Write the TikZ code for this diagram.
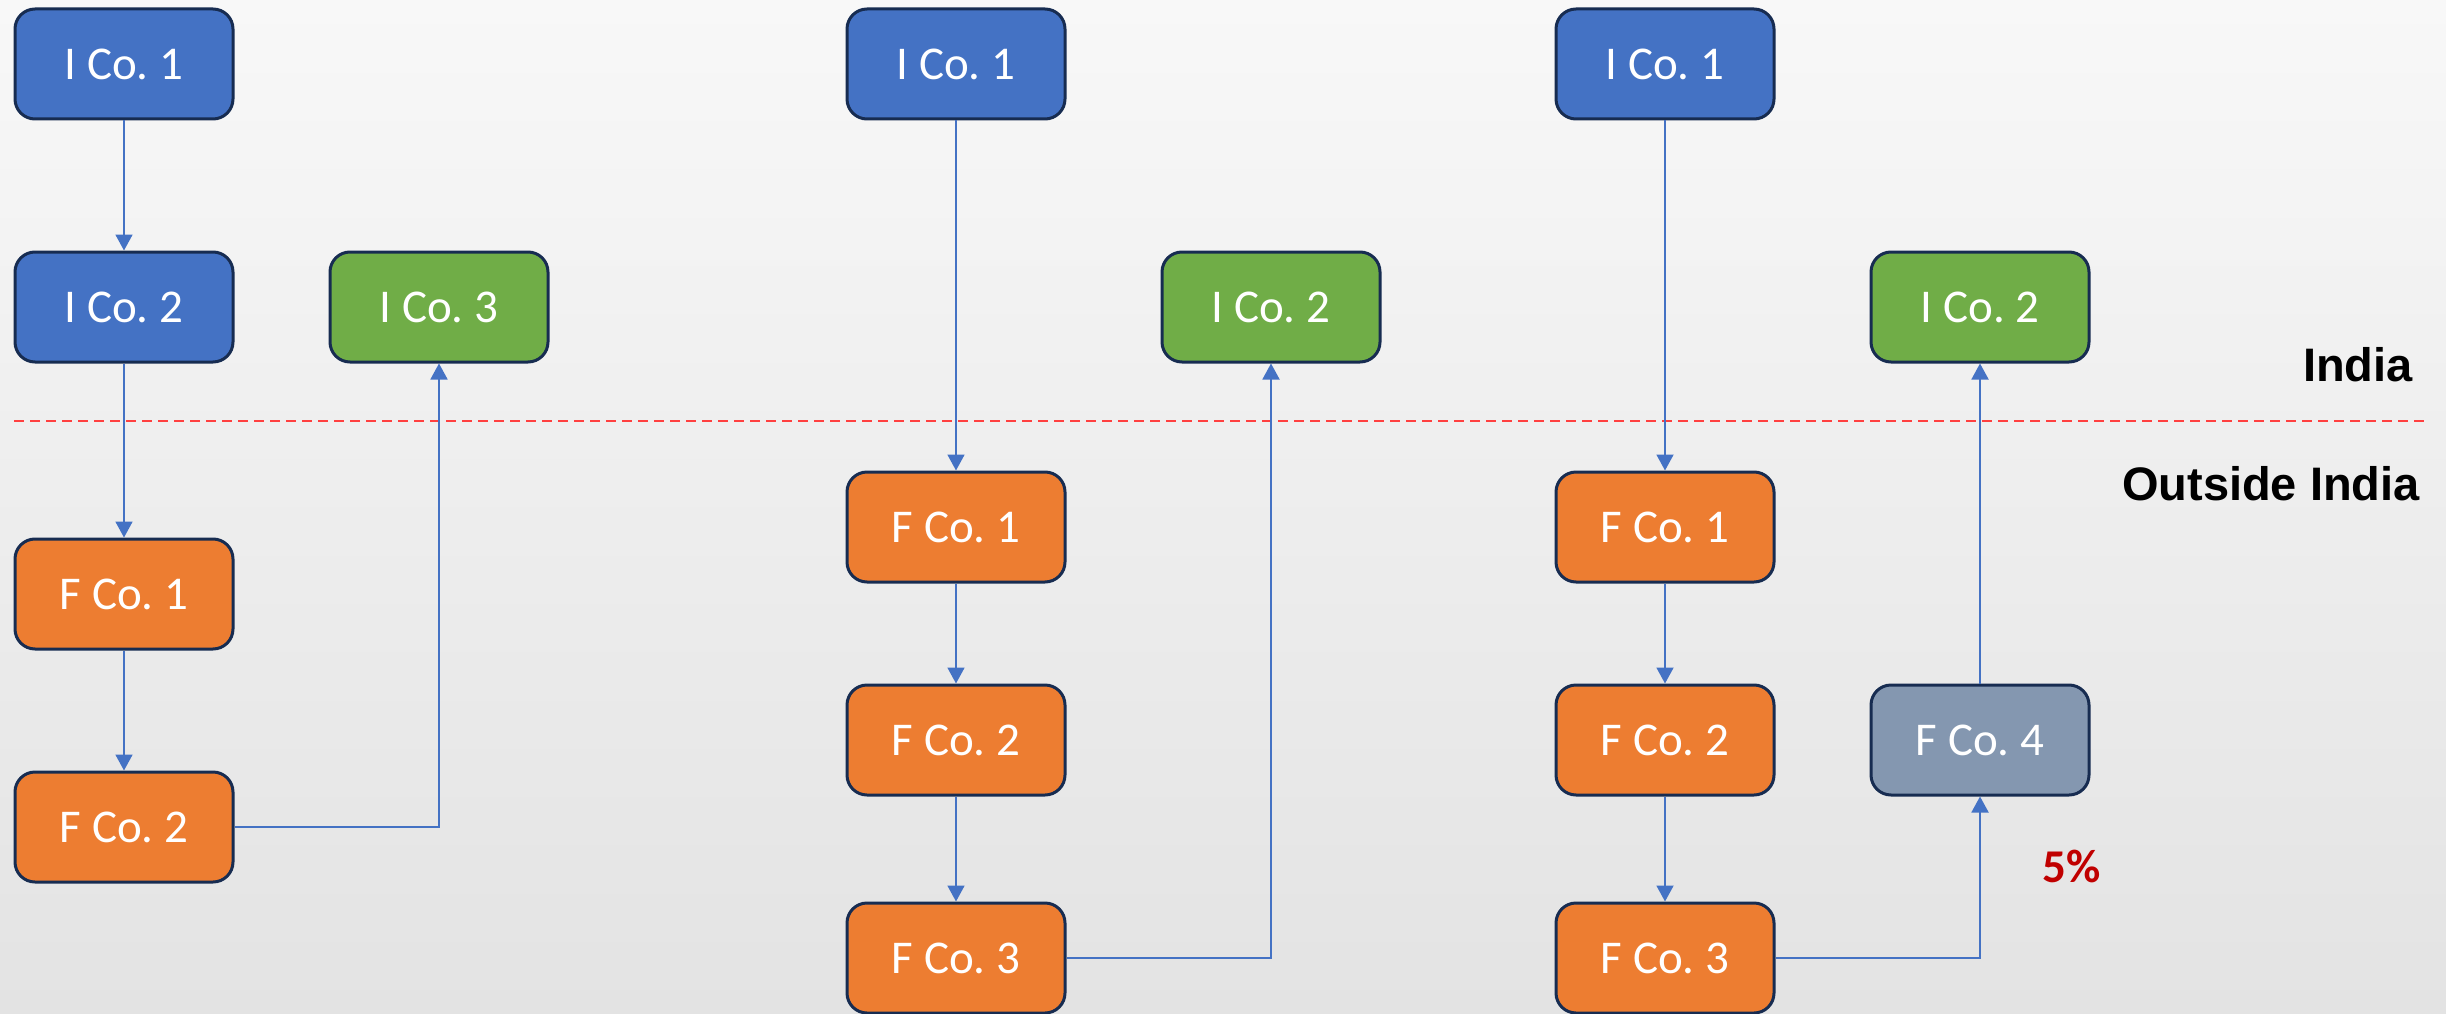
\documentclass[tikz,border=0pt]{standalone}
\usepackage{fontspec}
\setmainfont{Carlito}
\newfontfamily\regionfont{Liberation Sans}
\usetikzlibrary{arrows.meta}
\frenchspacing

\definecolor{icoblue}{HTML}{4472C4}
\definecolor{icogreen}{HTML}{70AD47}
\definecolor{fcoorange}{HTML}{ED7D31}
\definecolor{fcogrey}{HTML}{8497B0}
\definecolor{boxedge}{HTML}{172C51}
\definecolor{linkblue}{HTML}{4472C4}
\definecolor{borderred}{RGB}{255,64,64}
\definecolor{pctred}{HTML}{C00000}
\definecolor{bgtop}{HTML}{F8F8F8}
\definecolor{bgbottom}{HTML}{E3E3E3}

\tikzset{
  company/.style={draw=boxedge, line width=3pt, rounded corners=20pt,
    minimum width=218pt, minimum height=110pt, inner sep=0pt,
    text=white, font=\fontsize{47}{56}\selectfont},
  indian/.style={company, fill=icoblue},
  target/.style={company, fill=icogreen},
  foreign/.style={company, fill=fcoorange},
  thirdparty/.style={company, fill=fcogrey},
  link/.style={draw=linkblue, line width=1.8pt,
    -{Triangle[width=17pt,length=16pt]}},
  region/.style={font=\regionfont\bfseries\fontsize{47}{56}\selectfont,
    anchor=east, inner sep=0pt},
}

\begin{document}
\begin{tikzpicture}[x=1pt, y=-1pt]
  % page and background
  \useasboundingbox (0,0) rectangle (2446,1014);
  \shade[top color=bgtop, bottom color=bgbottom] (0,0) rectangle (2446,1014);

  % India / outside India border
  \coordinate (bordL) at (14,421);
  \coordinate (bordR) at (2426,421);
  \draw[borderred, line width=2pt, dash pattern=on 10pt off 6pt] (bordL) -- (bordR);
  \node[region] (india) at (2413,365) {India};
  \node[region] (outside) at (2420,484) {Outside India};

  % first structure
  \node[indian]  (a1) at (124,64)  {I Co. 1};
  \node[indian]  (a2) at (124,307) {I Co. 2};
  \node[target]  (a3) at (439,307) {I Co. 3};
  \node[foreign] (af1) at (124,594) {F Co. 1};
  \node[foreign] (af2) at (124,827) {F Co. 2};
  \draw[link] (a1) -- (a2);
  \draw[link] (a2) -- (af1);
  \draw[link] (af1) -- (af2);
  \draw[link] (af2.east) -| (a3.south);

  % second structure
  \node[indian]  (b1) at (956,64)   {I Co. 1};
  \node[target]  (b2) at (1271,307) {I Co. 2};
  \node[foreign] (bf1) at (956,527) {F Co. 1};
  \node[foreign] (bf2) at (956,740) {F Co. 2};
  \node[foreign] (bf3) at (956,958) {F Co. 3};
  \draw[link] (b1) -- (bf1);
  \draw[link] (bf1) -- (bf2);
  \draw[link] (bf2) -- (bf3);
  \draw[link] (bf3.east) -| (b2.south);

  % third structure
  \node[indian]     (c1) at (1665,64)   {I Co. 1};
  \node[target]     (c2) at (1980,307)  {I Co. 2};
  \node[foreign]    (cf1) at (1665,527) {F Co. 1};
  \node[foreign]    (cf2) at (1665,740) {F Co. 2};
  \node[foreign]    (cf3) at (1665,958) {F Co. 3};
  \node[thirdparty] (cf4) at (1980,740) {F Co. 4};
  \draw[link] (c1) -- (cf1);
  \draw[link] (cf1) -- (cf2);
  \draw[link] (cf2) -- (cf3);
  \draw[link] (cf3.east) -| (cf4.south);
  \draw[link] (cf4) -- (c2);
  \node[text=pctred, font=\bfseries\fontsize{47}{56}\selectfont, inner sep=0pt]
    (pct) at (2072,866) {5\%};
\end{tikzpicture}
\end{document}
